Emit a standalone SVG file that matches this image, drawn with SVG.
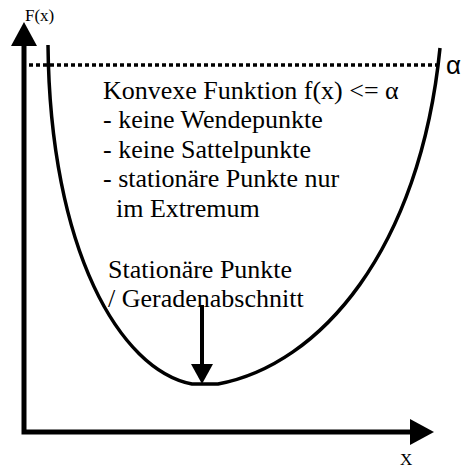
<svg xmlns="http://www.w3.org/2000/svg" width="463" height="469" viewBox="0 0 463 469">
<style>
  .t { font-family: "Liberation Serif", "Times New Roman", serif; fill: #000; }
  .big { font-size: 26px; }
  .ax { stroke: #000; stroke-width: 5; fill: none; }
  .cv { stroke: #000; stroke-width: 3.5; fill: none; }
</style>
<rect width="463" height="469" fill="#fff"/>
<g id="axes">
  <path class="ax" d="M24,44 V432 H412"/>
  <polygon points="24,22 11,46 37,46" fill="#000"/>
  <polygon points="434,432 410,419 410,445" fill="#000"/>
  <text class="t" x="25" y="21" font-size="17">F(x)</text>
  <text class="t" x="400" y="465" font-size="17">X</text>
</g>
<g id="alpha-line">
  <line x1="29" y1="65" x2="440" y2="65" stroke="#000" stroke-width="3.5" stroke-dasharray="4,3"/>
  <text x="446" y="74" font-family="Liberation Sans, Arial, sans-serif" font-size="26" fill="#000">α</text>
</g>
<g id="curve">
  <path class="cv" d="M48,45 C50,250 120,370 192,384 H218 C320,365 420,250 440,48"/>
</g>
<g id="label-main">
  <text class="t big" x="103" y="99">Konvexe Funktion f(x) &lt;= α</text>
  <text class="t big" x="103" y="128">- keine Wendepunkte</text>
  <text class="t big" x="103" y="158">- keine Sattelpunkte</text>
  <text class="t big" x="103" y="187">- stationäre Punkte nur</text>
  <text class="t big" x="116" y="217">im Extremum</text>
</g>
<g id="label-stationary">
  <text class="t big" x="108" y="278">Stationäre Punkte</text>
  <text class="t big" x="108" y="307">/ Geradenabschnitt</text>
</g>
<g id="connectors">
  <line x1="202" y1="305" x2="202" y2="368" stroke="#000" stroke-width="4"/>
  <polygon points="202,384 191,364 213,364" fill="#000"/>
</g>
</svg>
